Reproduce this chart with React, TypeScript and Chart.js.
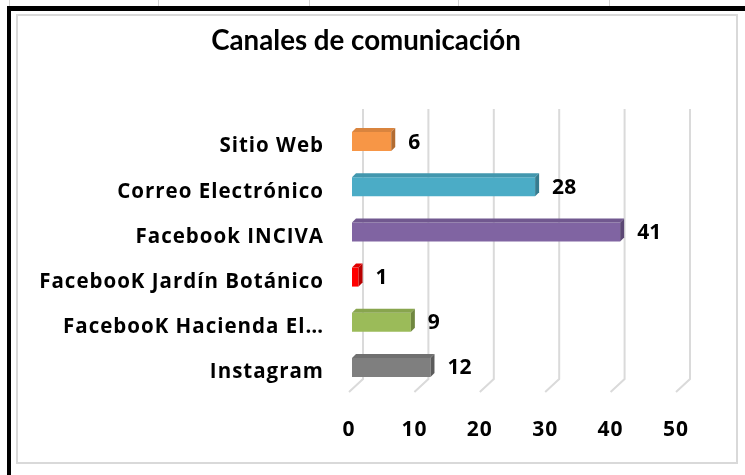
import React, { useEffect, useRef } from "react";
import { Chart, registerables } from "chart.js";

Chart.register(...registerables);

const chartTitle = "Canales de comunicación";
const categories = [
  "Sitio Web",
  "Correo Electrónico",
  "Facebook INCIVA",
  "FacebooK Jardín Botánico",
  "FacebooK Hacienda El…",
  "Instagram",
];
const values = [6, 28, 41, 1, 9, 12];
const barColors = ["#F79646", "#4BACC6", "#8064A2", "#FF0000", "#9BBB59", "#7F7F7F"];
const xMin = 0;
const xMax = 50;
const xStep = 10;

function shade(hex: string, f: number): string {
  const n = parseInt(hex.slice(1), 16);
  const r = Math.round(((n >> 16) & 255) * f);
  const g = Math.round(((n >> 8) & 255) * f);
  const b = Math.round((n & 255) * f);
  return `rgb(${r},${g},${b})`;
}

const depth = 4;

const spacingPlugin = {
  id: "spacing",
  beforeDraw(chart: any) {
    (chart.ctx as any).letterSpacing = "1px";
  },
  beforeDatasetsDraw(chart: any) {
    (chart.ctx as any).letterSpacing = "0px";
  },
};

const wallPlugin = {
  id: "wall",
  beforeDatasetsDraw(chart: any) {
    const ctx = chart.ctx;
    const xs = chart.scales.x;
    ctx.save();
    ctx.strokeStyle = "#DADADA";
    ctx.lineWidth = 2;
    for (let v = xMin; v <= xMax; v += xStep) {
      const x = xs.getPixelForValue(v);
      ctx.beginPath();
      ctx.moveTo(x + 11, 109);
      ctx.lineTo(x + 11, 379);
      ctx.lineTo(x - 3, 392);
      ctx.stroke();
    }
    ctx.restore();
  },
};

const bar3dPlugin = {
  id: "bar3d",
  afterDatasetsDraw(chart: any) {
    const ctx = chart.ctx;
    const meta = chart.getDatasetMeta(0);
    ctx.save();
    meta.data.forEach((el: any, i: number) => {
      const { x, y, base, height } = el.getProps(["x", "y", "base", "height"], true);
      const top = y - height / 2;
      const bottom = y + height / 2;
      const col = barColors[i];
      ctx.fillStyle = shade(col, 0.88);
      ctx.beginPath();
      ctx.moveTo(base, top);
      ctx.lineTo(base + depth, top - depth);
      ctx.lineTo(x + depth, top - depth);
      ctx.lineTo(x, top);
      ctx.closePath();
      ctx.fill();
      ctx.fillStyle = shade(col, 0.72);
      ctx.beginPath();
      ctx.moveTo(x, top);
      ctx.lineTo(x + depth, top - depth);
      ctx.lineTo(x + depth, bottom - depth);
      ctx.lineTo(x, bottom);
      ctx.closePath();
      ctx.fill();
      ctx.fillStyle = "#000";
      ctx.font = "bold 21px 'Open Sans'";
      ctx.textAlign = "left";
      ctx.textBaseline = "middle";
      ctx.fillText(String(values[i]), x + 17, y + 1);
    });
    ctx.font = "bold 27.7px Lato";
    ctx.textAlign = "center";
    ctx.textBaseline = "alphabetic";
    ctx.fillStyle = "#000";
    ctx.fillText(chartTitle, 366, 50);
    ctx.restore();
  },
};

export default function App() {
  const ref = useRef<HTMLCanvasElement | null>(null);
  useEffect(() => {
    if (!ref.current) return;
    const chart = new Chart(ref.current, {
      type: "bar",
      data: {
        labels: categories,
        datasets: [
          {
            data: values,
            backgroundColor: barColors,
            borderWidth: 0,
            barPercentage: 0.42,
            categoryPercentage: 1,
          },
        ],
      },
      options: {
        indexAxis: "y",
        responsive: false,
        animation: false,
        devicePixelRatio: 1,
        layout: { padding: { left: 0, right: 66, top: 119, bottom: 25 } },
        plugins: {
          legend: { display: false },
          tooltip: { enabled: false },
          title: { display: false },
        },
        scales: {
          x: {
            min: xMin,
            max: xMax,
            ticks: {
              stepSize: xStep,
              color: "#000",
              font: { family: "'Open Sans'", size: 21, weight: "bold" },
              padding: 27,
              labelOffset: -3,
            },
            grid: { display: false, drawTicks: false },
            border: { display: false },
            afterFit: (s: any) => {
              s.height = 60;
            },
          },
          y: {
            ticks: {
              color: "#000",
              font: { family: "'Open Sans'", size: 20.5, weight: "bold" },
              padding: 28,
              labelOffset: 5,
              autoSkip: false,
            },
            grid: { display: false, drawTicks: false },
            border: { display: false },
            afterFit: (s: any) => {
              s.width = 352;
            },
          },
        },
      },
      plugins: [spacingPlugin, wallPlugin, bar3dPlugin],
    });
    return () => chart.destroy();
  }, []);

  const sheetLines = [9, 158, 309, 458, 609];
  return (
    <div
      style={{
        position: "fixed",
        left: 0,
        top: 0,
        width: 745,
        height: 475,
        background: "#fff",
        overflow: "hidden",
      }}
    >
      {sheetLines.map((x) => (
        <div
          key={x}
          style={{ position: "absolute", left: x, top: 0, width: 1, height: 7, background: "#D4D4D4" }}
        />
      ))}
      <div
        style={{
          position: "absolute",
          left: 7,
          top: 6,
          width: 900,
          height: 700,
          borderLeft: "4px solid #000",
          borderTop: "5px solid #000",
        }}
      />
      <div
        style={{
          position: "absolute",
          left: 16,
          top: 14,
          width: 722,
          height: 450,
          boxSizing: "border-box",
          border: "2px solid #D9D9D9",
        }}
      />
      <canvas
        ref={ref}
        width={745}
        height={475}
        style={{ position: "absolute", left: 0, top: 0, width: 745, height: 475 }}
      />
    </div>
  );
}
